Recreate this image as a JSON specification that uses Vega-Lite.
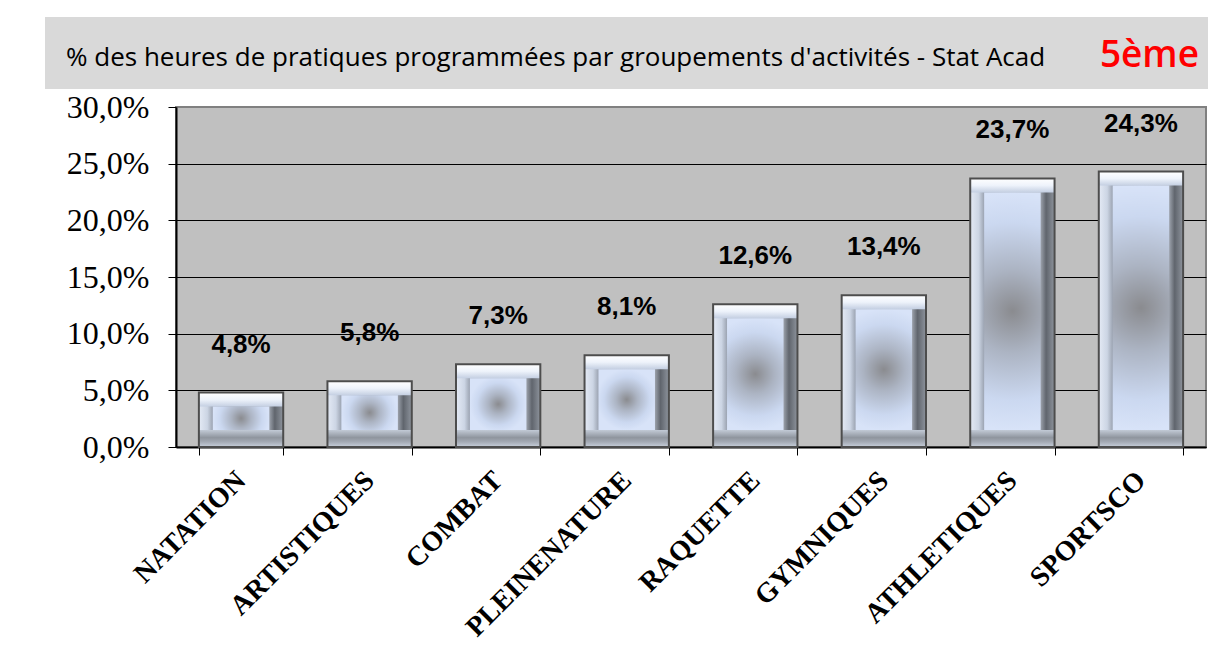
{
  "$schema": "https://vega.github.io/schema/vega-lite/v6.json",
  "padding": {"left": 44, "top": 17, "right": 0, "bottom": 0},
  "background": "white",
  "spacing": 1,
  "config": {
    "locale": {"number": {"decimal": ",", "thousands": " ", "grouping": [3], "currency": ["", " €"]}},
    "view": {"stroke": null}
  },
  "vconcat": [
    {
      "width": 1030,
      "height": 72,
      "view": {"stroke": null},
      "data": {"values": [{"titre": "% des heures de pratiques programmées par groupements d'activités - Stat Acad", "niveau": "5ème"}]},
      "layer": [
        {
          "mark": {"type": "rect", "color": "#d9d9d9", "clip": false},
          "encoding": {"x": {"value": -131}, "x2": {"value": 1033}, "y": {"value": 0}, "y2": {"value": 72}}
        },
        {
          "mark": {"type": "text", "align": "left", "baseline": "alphabetic", "font": "Open Sans", "fontSize": 26, "color": "black"},
          "encoding": {"text": {"field": "titre"}, "x": {"value": -110}, "y": {"value": 49}}
        },
        {
          "mark": {"type": "text", "align": "right", "baseline": "alphabetic", "font": "Open Sans", "fontSize": 37, "fontWeight": 600, "color": "#ff0000"},
          "encoding": {"text": {"field": "niveau"}, "x": {"value": 1023}, "y": {"value": 50}}
        }
      ]
    },
    {
      "width": 1030,
      "height": 340,
      "view": {"fill": "#c0c0c0", "stroke": "#808080", "strokeWidth": 2},
      "data": {"values": [
        {"activite": "NATATION", "part": 0.048},
        {"activite": "ARTISTIQUES", "part": 0.058},
        {"activite": "COMBAT", "part": 0.073},
        {"activite": "PLEINENATURE", "part": 0.081},
        {"activite": "RAQUETTE", "part": 0.126},
        {"activite": "GYMNIQUES", "part": 0.134},
        {"activite": "ATHLETIQUES", "part": 0.237},
        {"activite": "SPORTSCO", "part": 0.243}
      ]},
      "encoding": {
        "x": {
          "field": "activite", "type": "nominal", "sort": null,
          "scale": {"paddingInner": 0.344, "paddingOuter": 0.178},
          "axis": {
            "title": null, "labelAngle": -45, "labelAlign": "right", "labelBaseline": "middle",
            "labelFont": "Liberation Serif", "labelFontWeight": "bold", "labelFontSize": 28,
            "labelColor": "black", "labelPadding": 21, "labelLimit": 500, "labelOverlap": false,
            "tickBand": "extent", "tickColor": "black", "tickSize": 8, "tickWidth": 1,
            "domainColor": "black", "domainWidth": 2, "grid": false
          }
        },
        "y": {
          "field": "part", "type": "quantitative",
          "scale": {"domain": [0, 0.3]},
          "axis": {
            "title": null, "format": ".1%", "values": [0, 0.05, 0.1, 0.15, 0.2, 0.25, 0.3],
            "labelFont": "Liberation Serif", "labelFontSize": 32, "labelColor": "black", "labelPadding": 19,
            "tickColor": "black", "tickSize": 8, "tickWidth": 1,
            "domainColor": "black", "domainWidth": 2,
            "grid": true, "gridWidth": 1,
            "gridColor": {"condition": {"test": "datum.value >= 0.299", "value": "#808080"}, "value": "black"},
            "minExtent": 131
          }
        }
      },
      "layer": [
        {
          "mark": {
            "type": "bar",
            "fill": {"gradient": "linear", "x1": 0, "y1": 0, "x2": 1, "y2": 0,
              "stops": [
                {"offset": 0, "color": "#e4eaf5"},
                {"offset": 0.1, "color": "#ccd5e4"},
                {"offset": 0.17, "color": "#98a0ae"},
                {"offset": 0.5, "color": "#b0b8c6"},
                {"offset": 0.83, "color": "#a0a6b0"},
                {"offset": 0.9, "color": "#60656d"},
                {"offset": 1, "color": "#8e949d"}
              ]}
          }
        },
        {
          "mark": {
            "type": "bar", "y2Offset": 14,
            "fill": {"gradient": "linear", "x1": 0, "y1": 0, "x2": 0, "y2": 1,
              "stops": [
                {"offset": 0, "color": "#ffffff"},
                {"offset": 0.5, "color": "#eef3fb"},
                {"offset": 1, "color": "#c4cfe2"}
              ]}
          },
          "encoding": {"y2": {"field": "part"}}
        },
        {
          "mark": {
            "type": "bar", "yOffset": -17,
            "fill": {"gradient": "linear", "x1": 0, "y1": 0, "x2": 0, "y2": 1,
              "stops": [
                {"offset": 0, "color": "#c2cad6"},
                {"offset": 0.45, "color": "#8f959e"},
                {"offset": 0.7, "color": "#a4aab4"},
                {"offset": 1, "color": "#c8d0dc"}
              ]}
          },
          "encoding": {"y": {"datum": 0}, "y2": {"datum": 0}}
        },
        {
          "mark": {
            "type": "bar", "yOffset": 14, "y2Offset": -17,
            "width": {"band": 0.67},
            "fill": {"gradient": "radial", "x1": 0.5, "y1": 0.5, "r1": 0, "x2": 0.5, "y2": 0.5, "r2": 0.5,
              "stops": [
                {"offset": 0, "color": "#8a8b8f"},
                {"offset": 0.35, "color": "#acb4c3"},
                {"offset": 0.75, "color": "#cbd8f0"},
                {"offset": 1, "color": "#d8e3f8"}
              ]}
          },
          "encoding": {"y2": {"datum": 0}}
        },
        {
          "mark": {"type": "bar", "fillOpacity": 0, "stroke": "#4d4d4d", "strokeWidth": 2}
        },
        {
          "mark": {"type": "text", "font": "Liberation Sans", "fontWeight": "bold", "fontSize": 26, "dy": -48, "baseline": "middle", "color": "black"},
          "encoding": {"text": {"field": "part", "type": "quantitative", "format": ".1%"}}
        }
      ]
    }
  ]
}
